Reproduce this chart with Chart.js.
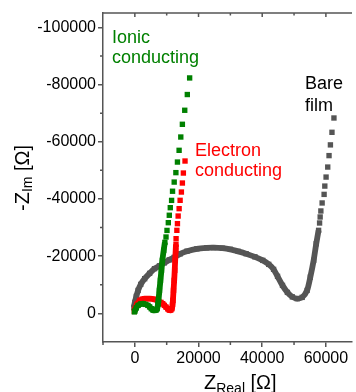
<!DOCTYPE html>
<html>
<head>
<meta charset="utf-8">
<script src="https://cdn.jsdelivr.net/npm/chart.js@4.4.1/dist/chart.umd.min.js"></script>
<style>
  html, body { margin: 0; padding: 0; background: #fff; overflow: hidden; }
</style>
</head>
<body>
<canvas id="nyquist" width="356" height="392"></canvas>
<script>
// [Z_real, Z_im] in ohm. "dense" = high frequency part where the markers overlap
const ionicDense = [
  [-150, -520], [0, -800], [460, -1920], [1020, -2800], [1850, -3290], [2570, -3390],
  [3400, -3150], [4110, -2800], [4640, -2270], [5160, -1640], [5720, -1150], [6180, -1050],
  [6650, -1150], [7020, -1640], [7260, -3150], [7420, -4550], [7730, -8040], [8040, -11540],
  [8350, -15040], [8650, -18530], [9060, -22030], [9430, -24830]
];
const ionicSparse = [
  [9790, -26700], [10100, -29000], [10510, -31700], [10820, -34300], [11130, -36950],
  [11540, -39500], [11840, -42700], [12360, -45900], [12890, -49200], [13380, -52900],
  [13900, -57000], [14430, -61650], [14930, -66100], [15670, -71000], [16480, -76500],
  [17210, -82300]
];

const electronDense = [
  [-150, -700], [0, -1400], [620, -3150], [1550, -4550], [2320, -4970], [3090, -5140],
  [4640, -5140], [6180, -4900], [7260, -4370], [8190, -3850], [8750, -3390], [9270, -2800],
  [9800, -2200], [10350, -1570], [10820, -1150], [11280, -1150], [11650, -1640], [11840, -3150],
  [11960, -4550], [12150, -8040], [12360, -11540], [12520, -15040], [12670, -18530],
  [12830, -22030], [12920, -24130]
];
const electronSparse = [
  [12950, -26120], [13200, -29030], [13380, -31370], [13600, -34030], [13910, -36610],
  [14220, -39520], [14620, -42420], [14930, -45570], [15240, -49060], [15760, -53260]
];

const bareDense = [
  [-300, -2100], [0, -3850], [460, -5940], [1020, -8040], [1850, -10140], [3090, -12130],
  [4640, -13990], [6180, -15630], [7730, -16610], [9270, -17660], [10820, -18710],
  [12360, -19580], [14220, -20810], [16380, -21750], [19470, -22560], [22560, -22900],
  [24730, -22980], [27510, -22800], [29990, -22380], [32460, -21680], [34930, -20880],
  [37710, -19760], [40180, -18530], [42040, -17140], [43580, -15390], [44820, -12940],
  [46370, -9790], [47910, -7340], [49460, -5770], [51000, -5140], [52550, -5600],
  [54100, -8040], [55110, -12690], [56160, -18530], [56970, -24370], [57710, -29030]
];
const bareSparse = [
  [58020, -31600], [58200, -33700], [58420, -35800], [58820, -38600], [59440, -41600],
  [59660, -44500], [60060, -47650], [60580, -51150], [60990, -55150], [61420, -58900],
  [61910, -63300], [62530, -68300]
];

const xTicks = [0, 20000, 40000, 60000];
const xMinorTicks = [-10000, 10000, 30000, 50000];
const yTicks = [-100000, -80000, -60000, -40000, -20000, 0];
const yMinorTicks = [-90000, -70000, -50000, -30000, -10000];

const GREEN = "#008000";
const RED = "#ff0000";
const GREY = "#555555";
const AXIS = "#555555";
const FONT = "'Liberation Sans', Arial, sans-serif";

const toPts = arr => arr.map(p => ({ x: p[0], y: p[1] }));

function denseSet(arr, color) {
  return {
    data: toPts(arr), showLine: true, borderColor: color, borderWidth: 5.8,
    borderJoinStyle: "round", tension: 0.2,
    pointStyle: "rect", pointRadius: 3.8, pointBackgroundColor: color, pointBorderWidth: 0
  };
}
function sparseSet(arr, color) {
  return {
    data: toPts(arr), showLine: false,
    pointStyle: "rect", pointRadius: 3.8, pointBackgroundColor: color, pointBorderWidth: 0
  };
}

// text with a subscript, returns end x
function subText(ctx, parts, x, y) {
  parts.forEach(p => {
    ctx.font = p.size + "px " + FONT;
    ctx.fillText(p.t, x, y + (p.dy || 0));
    x += ctx.measureText(p.t).width;
  });
}

const decorations = {
  id: "decorations",
  afterDraw(chart) {
    const ctx = chart.ctx;
    const xs = chart.scales.x, ys = chart.scales.y;
    const a = chart.chartArea;
    ctx.save();
    ctx.strokeStyle = AXIS;
    ctx.lineWidth = 1.5;
    // top axis line
    ctx.beginPath();
    ctx.moveTo(a.left, a.top);
    ctx.lineTo(a.right, a.top);
    ctx.stroke();
    ctx.beginPath();
    xTicks.forEach(v => { const p = xs.getPixelForValue(v); ctx.moveTo(p, a.top); ctx.lineTo(p, a.top + 4); });
    xMinorTicks.forEach(v => { const p = xs.getPixelForValue(v); if (p > a.left + 1) { ctx.moveTo(p, a.top); ctx.lineTo(p, a.top + 2.5); } });
    // minor ticks bottom and left (outward)
    xMinorTicks.forEach(v => { const p = xs.getPixelForValue(v); ctx.moveTo(p, a.bottom); ctx.lineTo(p, a.bottom + 3); });
    yMinorTicks.forEach(v => { const p = ys.getPixelForValue(v); ctx.moveTo(a.left, p); ctx.lineTo(a.left - 3, p); });
    ctx.stroke();

    // axis titles
    ctx.fillStyle = "#000";
    ctx.textBaseline = "alphabetic";
    ctx.textAlign = "left";
    subText(ctx, [{ t: "Z", size: 20 }, { t: "Real", size: 14, dy: 3.5 }, { t: " [Ω]", size: 20 }], 204, 389);
    ctx.save();
    ctx.translate(28.5, 211);
    ctx.rotate(-Math.PI / 2);
    subText(ctx, [{ t: "-Z", size: 20 }, { t: "Im", size: 14, dy: 3 }, { t: " [Ω]", size: 20 }], 0, 0);
    ctx.restore();

    // series annotations
    ctx.font = "18px " + FONT;
    ctx.fillStyle = GREEN;
    ctx.fillText("Ionic", 112, 43);
    ctx.fillText("conducting", 112, 63);
    ctx.fillStyle = RED;
    ctx.fillText("Electron", 195, 156);
    ctx.fillText("conducting", 195, 176);
    ctx.fillStyle = "#000";
    ctx.fillText("Bare", 305, 89);
    ctx.fillText("film", 305, 111);
    ctx.restore();
  }
};

new Chart(document.getElementById("nyquist"), {
  type: "scatter",
  data: {
    datasets: [
      denseSet(ionicDense, GREEN), sparseSet(ionicSparse, GREEN),
      denseSet(electronDense, RED), sparseSet(electronSparse, RED),
      denseSet(bareDense, GREY), sparseSet(bareSparse, GREY)
    ]
  },
  options: {
    responsive: false,
    animation: false,
    devicePixelRatio: 1,
    layout: { padding: { top: 13, right: 0, left: 0, bottom: 0 } },
    plugins: { legend: { display: false }, tooltip: { enabled: false } },
    scales: {
      x: {
        type: "linear", min: -10000, max: 68200,
        afterBuildTicks: s => { s.ticks = xTicks.map(v => ({ value: v })); },
        afterFit: s => { s.height = 50; },
        ticks: { callback: v => String(v), color: "#000", font: { family: FONT, size: 16 }, padding: 2, maxRotation: 0 },
        grid: { drawOnChartArea: false, drawTicks: true, tickLength: 5, color: AXIS, lineWidth: 1.5 },
        border: { display: true, color: AXIS, width: 1.5 }
      },
      y: {
        type: "linear", reverse: true, min: -105000, max: 10000,
        afterBuildTicks: s => { s.ticks = yTicks.map(v => ({ value: v })); },
        afterFit: s => { s.width = 103; },
        ticks: { callback: v => String(v), color: "#000", font: { family: FONT, size: 16 }, padding: 2 },
        grid: { drawOnChartArea: false, drawTicks: true, tickLength: 5, color: AXIS, lineWidth: 1.5 },
        border: { display: true, color: AXIS, width: 1.5 }
      }
    }
  },
  plugins: [decorations]
});
</script>
</body>
</html>
